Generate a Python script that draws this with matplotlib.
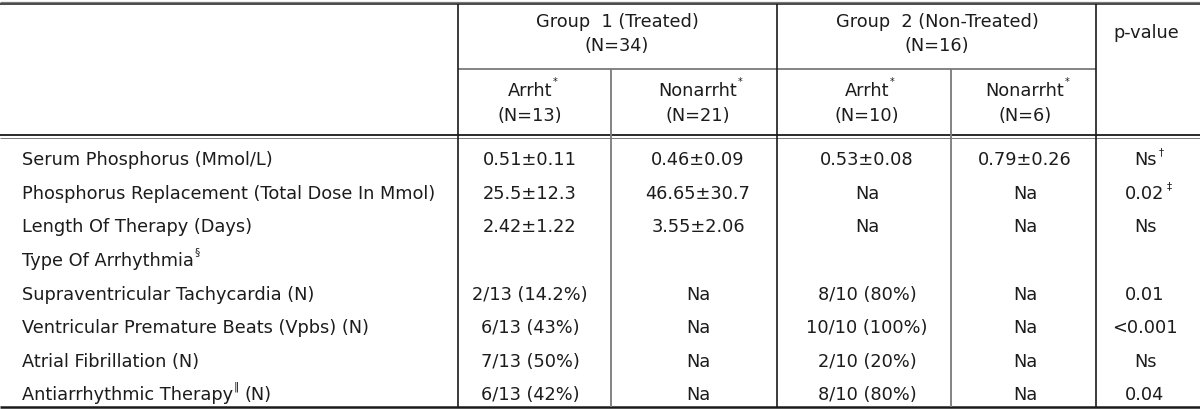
import matplotlib
matplotlib.use('Agg')
import matplotlib.pyplot as plt

plt.rcParams['font.family'] = ['DejaVu Sans']

# table content
row_labels = ['Serum Phosphorus (Mmol/L)',
              'Phosphorus Replacement (Total Dose In Mmol)',
              'Length Of Therapy (Days)',
              'Type Of Arrhythmia',
              'Supraventricular Tachycardia (N)',
              'Ventricular Premature Beats (Vpbs) (N)',
              'Atrial Fibrillation (N)',
              'Antiarrhythmic Therapy']
label_marks = ['', '', '', '§', '', '', '', '‖']
label_tails = ['', '', '', '', '', '', '', '(N)']

g1_arrht = ['0.51±0.11', '25.5±12.3', '2.42±1.22', '', '2/13 (14.2%)', '6/13 (43%)', '7/13 (50%)', '6/13 (42%)']
g1_nonarrht = ['0.46±0.09', '46.65±30.7', '3.55±2.06', '', 'Na', 'Na', 'Na', 'Na']
g2_arrht = ['0.53±0.08', 'Na', 'Na', '', '8/10 (80%)', '10/10 (100%)', '2/10 (20%)', '8/10 (80%)']
g2_nonarrht = ['0.79±0.26', 'Na', 'Na', '', 'Na', 'Na', 'Na', 'Na']
p_values = ['Ns', '0.02', 'Ns', '', '0.01', '<0.001', 'Ns', '0.04']
p_marks = ['†', '‡', '', '', '', '', '', '']

group_titles = ['Group  1 (Treated)\n(N=34)', 'Group  2 (Non-Treated)\n(N=16)']
sub_titles = ['Arrht', 'Nonarrht', 'Arrht', 'Nonarrht']
sub_ns = ['(N=13)', '(N=21)', '(N=10)', '(N=6)']

fig = plt.figure(figsize=(12, 4.1), dpi=100)
ax = fig.add_axes([0, 0, 1, 1])
ax.set_xlim(0, 1200)
ax.set_ylim(410, 0)
ax.axis('off')

fs = 12.8
txt = '#1c1c1c'
dark = '#1a1a1a'
grey = '#7a7a7a'

# rules
ax.hlines(2.5, 0, 1200, color=grey, lw=0.9)
ax.hlines(5, 0, 1200, color=dark, lw=1.1)
ax.hlines(70, 458, 1096, color=grey, lw=1.3)
ax.hlines(136, 0, 1200, color=dark, lw=1.3)
ax.hlines(138.5, 0, 1200, color=grey, lw=0.7)
ax.hlines(408, 0, 1200, color=dark, lw=1.8)
for x in [458, 777, 1096]:
    ax.vlines(x, 5, 408, color=dark, lw=1.2)
for x in [611, 951]:
    ax.vlines(x, 70, 408, color=grey, lw=1.3)

# header
ax.text(617, 34, group_titles[0], ha='center', va='center', fontsize=fs, linespacing=1.4, color=txt)
ax.text(937, 34, group_titles[1], ha='center', va='center', fontsize=fs, linespacing=1.4, color=txt)
ax.text(1146, 33, 'p-value', ha='center', va='center', fontsize=fs, color=txt)

col_x = [530, 698, 867, 1025]
for cx, t, n in zip(col_x, sub_titles, sub_ns):
    h = ax.text(cx, 91, t, ha='center', va='center', fontsize=fs, color=txt)
    ax.annotate('*', xy=(1, 1), xycoords=h, xytext=(0.5, 0), textcoords='offset points',
                ha='left', va='center', fontsize=7, color=txt)
    ax.text(cx, 116, n, ha='center', va='center', fontsize=fs, color=txt)

# body
row_y = [160, 194, 227.5, 261, 295, 328.5, 362, 395.5]
for i, y in enumerate(row_y):
    h = ax.text(22, y, row_labels[i], ha='left', va='center', fontsize=fs, color=txt)
    if label_marks[i]:
        m = ax.annotate(label_marks[i], xy=(1, 1), xycoords=h, xytext=(0.5, 0),
                        textcoords='offset points', ha='left', va='center', fontsize=7.5, color=txt)
        if label_tails[i]:
            ax.annotate(label_tails[i], xy=(1, 0), xycoords=h, xytext=(8, 0),
                        textcoords='offset points', ha='left', va='bottom', fontsize=fs, color=txt)
    for cx, col in zip(col_x, [g1_arrht, g1_nonarrht, g2_arrht, g2_nonarrht]):
        ax.text(cx, y, col[i], ha='center', va='center', fontsize=fs, color=txt)
    h = ax.text(1145, y, p_values[i], ha='center', va='center', fontsize=fs, color=txt)
    if p_marks[i]:
        ax.annotate(p_marks[i], xy=(1, 1), xycoords=h, xytext=(1.5, -1),
                    textcoords='offset points', ha='left', va='center', fontsize=7.5, color=txt)

fig.savefig('out.png', dpi=100)
